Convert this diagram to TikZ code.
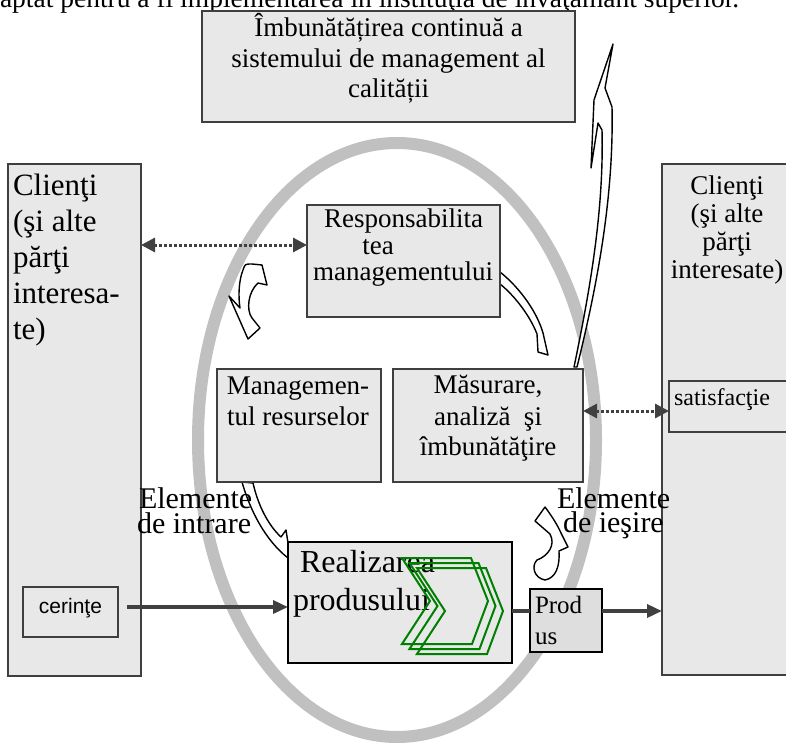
\documentclass[tikz,border=0pt]{standalone}
\usepackage{fontspec}
\setmainfont{Liberation Serif}
\newfontfamily\arialfont{Liberation Sans}
\usetikzlibrary{arrows.meta,calc}
\definecolor{boxfill}{HTML}{E8E8E8}
\definecolor{prodfill}{HTML}{DEDEDE}
\definecolor{boxline}{HTML}{3F3F3F}
\definecolor{ringgray}{HTML}{C0C0C0}
\definecolor{linkgray}{HTML}{404040}
\definecolor{chevgreen}{HTML}{008000}
\newcommand\fsz[1]{\fontsize{#1}{#1}\selectfont}
\begin{document}
\begin{tikzpicture}[x=1pt,y=-1pt,
  box/.style={draw=boxline,fill=boxfill,line width=1.3pt,inner sep=0pt,outer sep=0pt},
  strongbox/.style={box,draw=black,line width=2pt},
  lbl/.style={inner sep=0pt,outer sep=0pt,anchor=base},
  lblw/.style={inner sep=0pt,outer sep=0pt,anchor=base west},
  blockarrow/.style={draw=black,fill=white,line width=1.4pt,line join=round},
  chev/.style={draw=chevgreen,line width=2pt,line join=miter},
  flow/.style={draw=linkgray,line width=3.5pt},
  headtip/.style={-{Triangle[length=15pt,width=13pt]}},
  dotlink/.style={draw=linkgray,line width=3pt,dash pattern=on 2.5pt off 2.5pt,
    {Triangle[length=14pt,width=14pt]}-{Triangle[length=14pt,width=14pt]}}]
\useasboundingbox (0,0) rectangle (786,746);
\clip (0,0) rectangle (786,746);

% running text line above the figure
\node[lblw,font=\fsz{27.5}] (intro) at (0,8) {aptat pentru a fi implementarea în instituţia de învăţământ superior.};

% quality-system cycle ring
\draw[ringgray,line width=12pt] (397,440) ellipse [x radius=199pt, y radius=297pt];

% white block arrows of the cycle
\draw[blockarrow] (574,367) .. controls (590,290) and (604,210) .. (602,130) -- (598,123) -- (591,168)
  -- (594,100) -- (613,44) -- (605,88) -- (612,107) .. controls (614,200) and (596,290) .. (577,367) -- cycle;
\draw[blockarrow] (500,272) .. controls (520,288) and (537,312) .. (543,333) -- (548,355) -- (538,352)
  -- (537,334) .. controls (530,316) and (515,296) .. (500,284) -- cycle;
\draw[blockarrow] (242,482) .. controls (250,510) and (265,540) .. (288,558) -- (288,543) -- (286,530)
  -- (281,537) .. controls (268,525) and (258,505) .. (253,483) -- cycle;
\draw[blockarrow] (243,270) .. controls (245,264) .. (252,264) -- (262,265) -- (267,285) -- (258,283)
  .. controls (248,292) and (246,310) .. (252,318) -- (260,328) -- (248,339) -- (229,296) -- (240,308)
  .. controls (238,295) and (239,280) .. (243,270) -- cycle;
\draw[blockarrow] (545,507) -- (535,521) -- (550,534) .. controls (556,545) and (548,556) .. (537,560)
  .. controls (531,566) and (534,578) .. (545,580) .. controls (556,578) and (560,566) .. (559,551)
  -- (568,547) -- (561,533) .. controls (557,524) and (551,515) .. (545,507) -- cycle;

% boxes
\node[box,minimum width=373pt,minimum height=111pt] (top) at (388.5,66.5) {};
\node[box,minimum width=133pt,minimum height=512pt] (leftC) at (74.5,420) {};
\node[box,minimum width=95pt,minimum height=50pt] (cer) at (70.5,612) {};
\node[box,minimum width=193pt,minimum height=112pt] (resp) at (403.5,261) {};
\node[box,minimum width=164pt,minimum height=113pt] (mgmt) at (299,425.5) {};
\node[box,minimum width=190pt,minimum height=113pt] (meas) at (488,425.5) {};
\node[strongbox,minimum width=224pt,minimum height=121pt] (real) at (400,602.5) {};
\node[strongbox,fill=prodfill,minimum width=72pt,minimum height=63pt] (prod) at (566,620.5) {};
\node[box,minimum width=130pt,minimum height=511pt] (rightC) at (727,419.5) {};
\node[box,minimum width=123pt,minimum height=51pt] (sat) at (730.5,406.5) {};

% texts
\begin{scope}[font=\fsz{27}]
\node[lbl] (topA) at (388.5,37) {Îmbunătățirea continuă a};
\node[lbl] (topB) at (388.5,68) {sistemului de management al};
\node[lbl] (topC) at (388.5,98) {calității};
\node[lbl] (rcA) at (727,194) {Clienţi};
\node[lbl] (rcB) at (727,222) {(şi alte};
\node[lbl] (rcC) at (727,250) {părţi};
\node[lbl] (rcD) at (727,278) {interesate)};
\node[lbl] (respA) at (403.5,227) {Responsabilita};
\node[lbl] (respB) at (378,254) {tea};
\node[lbl] (respC) at (403,280) {managementului};
\node[lbl] (mgmtA) at (298,394) {Managemen-};
\node[lbl] (mgmtB) at (298,425) {tul resurselor};
\node[lbl] (measA) at (488,393) {Măsurare,};
\node[lbl] (measB) at (488,425) {analiză\ \ şi};
\node[lbl] (measC) at (488,455) {îmbunătăţire};
\end{scope}
\begin{scope}[font=\fsz{31}]
\node[lblw] (lcA) at (13,195) {Clienţi};
\node[lblw] (lcB) at (13,231) {(şi alte};
\node[lblw] (lcC) at (13,267) {părţi};
\node[lblw] (lcD) at (13,303) {interesa-};
\node[lblw] (lcE) at (13,339) {te)};
\end{scope}
\node[lblw,font=\fsz{32}] (realA) at (300,572) {Realizarea};
\node[lblw,font=\fsz{32}] (realB) at (293,610) {produsului};
\node[lblw,font=\fsz{25}] (prodA) at (535,613) {Prod};
\node[lblw,font=\fsz{25}] (prodB) at (535,644) {us};
\node[lblw,font=\fsz{24}] (satT) at (674,405) {satisfacţie};
\node[lbl,font=\arialfont\fsz{21}] (cerT) at (70.5,613) {cerinţe};
\begin{scope}[font=\fsz{30}]
\node[lblw] (inA) at (139,508) {Elemente};
\node[lblw] (inB) at (137,533) {de intrare};
\node[lblw] (outA) at (557,508) {Elemente};
\node[lblw] (outB) at (563,532) {de ieşire};
\end{scope}

% process chevrons inside the product realisation box
\foreach \i in {0,1,2}
  \draw[chev,shift={(7.5*\i,5*\i)}] (402,558) -- (471,558) -- (488,601) -- (472,644)
    -- (402,644) -- (430,601) -- cycle;

% connectors
\coordinate (cerOut) at ([xshift=9pt,yshift=5pt]cer.east);
\draw[flow,headtip] (cerOut) -- (real.west |- cerOut);
\coordinate (rp) at ([yshift=-8.5pt]real.east);
\draw[flow] (rp) -- (prod.west |- rp);
\draw[flow,headtip] (prod.east |- rp) -- (rightC.west |- rp);
\coordinate (d1) at ([yshift=16pt]resp.west);
\draw[dotlink] (leftC.east |- d1) -- (d1);
\coordinate (d2) at ([yshift=14.5pt]meas.east);
\draw[dotlink] (d2) -- (sat.west |- d2);
\end{tikzpicture}
\end{document}
